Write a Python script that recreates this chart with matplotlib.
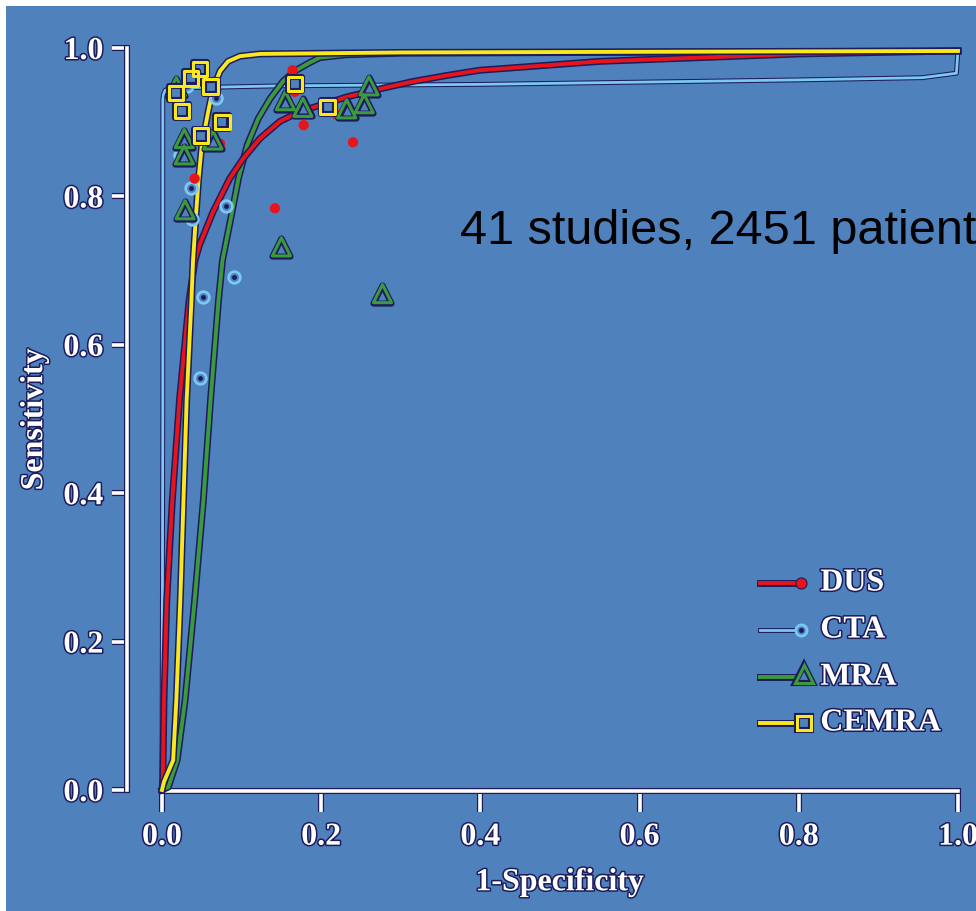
import matplotlib
matplotlib.use("Agg")
import matplotlib.pyplot as plt
import matplotlib.patheffects as pe
from matplotlib.patches import Rectangle

# colours
BG = "#4f81bd"
NAVY = "#1c1c5c"
RED = "#e8141c"
LBLUE = "#7cc8f0"
GREEN = "#3c9a3c"
YELLOW = "#f8e81c"

# summary ROC curves (1-specificity, sensitivity)
dus_curve_x = [0.0, 0.001, 0.0025, 0.006, 0.013, 0.022, 0.034, 0.0415, 0.047, 0.064,
               0.085, 0.102, 0.123, 0.148, 0.173, 0.190, 0.232, 0.274, 0.316, 0.358,
               0.399, 0.55, 0.80, 1.0]
dus_curve_y = [0.0, 0.013, 0.121, 0.256, 0.391, 0.526, 0.660, 0.714, 0.734, 0.779,
               0.824, 0.851, 0.878, 0.901, 0.914, 0.920, 0.934, 0.945, 0.955, 0.963,
               0.970, 0.982, 0.992, 0.996]

cta_curve_x = [0.0, 0.001, 0.001, 0.002, 0.004, 0.010, 0.15, 0.4, 0.8, 0.955, 0.998, 1.0]
cta_curve_y = [0.0, 0.5, 0.930, 0.938, 0.943, 0.946, 0.949, 0.951, 0.957, 0.960, 0.966, 0.997]

mra_curve_x = [0.0, 0.008, 0.019, 0.029, 0.041, 0.052, 0.061, 0.071, 0.076, 0.088,
               0.096, 0.107, 0.121, 0.136, 0.152, 0.167, 0.185, 0.198, 0.232, 0.3, 1.0]
mra_curve_y = [0.0, 0.004, 0.040, 0.121, 0.256, 0.391, 0.526, 0.660, 0.714, 0.779,
               0.824, 0.869, 0.905, 0.932, 0.955, 0.969, 0.980, 0.987, 0.991, 0.993, 0.996]

cemra_curve_x = [0.0, 0.0025, 0.014, 0.018, 0.023, 0.027, 0.031, 0.037, 0.039, 0.043,
                 0.046, 0.050, 0.058, 0.064, 0.073, 0.083, 0.098, 0.123, 0.3, 1.0]
cemra_curve_y = [0.0, 0.011, 0.040, 0.121, 0.256, 0.391, 0.526, 0.660, 0.714, 0.779,
                 0.824, 0.869, 0.914, 0.945, 0.969, 0.982, 0.989, 0.992, 0.994, 0.996]

# individual studies
dus_x = [0.164, 0.167, 0.178, 0.220, 0.240, 0.073, 0.041, 0.142]
dus_y = [0.970, 0.941, 0.896, 0.910, 0.873, 0.871, 0.824, 0.784]

cta_x = [0.016, 0.032, 0.068, 0.023, 0.037, 0.038, 0.081, 0.090, 0.051, 0.048]
cta_y = [0.939, 0.949, 0.933, 0.856, 0.811, 0.770, 0.787, 0.692, 0.665, 0.555]

mra_x = [0.018, 0.028, 0.028, 0.064, 0.029, 0.155, 0.177, 0.232, 0.254, 0.260, 0.150, 0.277]
mra_y = [0.948, 0.878, 0.856, 0.876, 0.782, 0.929, 0.920, 0.918, 0.925, 0.949, 0.732, 0.669]

cemra_x = [0.048, 0.036, 0.061, 0.018, 0.025, 0.076, 0.049, 0.167, 0.208]
cemra_y = [0.972, 0.959, 0.948, 0.939, 0.915, 0.900, 0.882, 0.952, 0.920]

ticks = [0.0, 0.2, 0.4, 0.6, 0.8, 1.0]
tick_labels = ["0.0", "0.2", "0.4", "0.6", "0.8", "1.0"]
legend_names = ["DUS", "CTA", "MRA", "CEMRA"]

W, H = 976, 911
fig = plt.figure(figsize=(W / 100, H / 100), dpi=100, facecolor="white")
fig.patches.append(Rectangle((6 / W, 0), 1, (H - 6) / H, transform=fig.transFigure,
                             facecolor=BG, edgecolor="none", zorder=-10))

ax = fig.add_axes([162 / W, (H - 790) / H, (958 - 162) / W, (790 - 48) / H])
ax.set_facecolor("none")
ax.set_xlim(0, 1)
ax.set_ylim(0, 1)

outline = lambda w: [pe.Stroke(linewidth=w, foreground=NAVY), pe.Normal()]
txt_fx = [pe.withStroke(linewidth=2.2, foreground=NAVY)]
serif = {"family": "Liberation Serif", "weight": "bold"}

# curves
ax.plot(cta_curve_x, cta_curve_y, color=LBLUE, lw=2, clip_on=False, zorder=3,
        path_effects=outline(3.5))
ax.plot(mra_curve_x, mra_curve_y, color=GREEN, lw=2.8, clip_on=False, zorder=4,
        path_effects=outline(5))
ax.plot(dus_curve_x, dus_curve_y, color=RED, lw=2.8, clip_on=False, zorder=5,
        path_effects=outline(5))
ax.plot(cemra_curve_x, cemra_curve_y, color=YELLOW, lw=2.8, clip_on=False, zorder=6,
        path_effects=outline(5))


def hollow(x, y, marker, s, color, z):
    # navy rim on both sides of a coloured outline, background inside
    ax.scatter(x, y, s=s, marker=marker, facecolors=BG, edgecolors=NAVY,
               linewidths=4.4, zorder=z)
    ax.scatter(x, y, s=s, marker=marker, facecolors="none", edgecolors=color,
               linewidths=2.2, zorder=z + 0.1)


# study points
ax.scatter(cta_x, cta_y, s=70, marker="o", facecolors=BG, edgecolors=LBLUE,
           linewidths=2, zorder=7)
ax.scatter(cta_x, cta_y, s=6, marker="o", color=NAVY, zorder=7.5)
ax.scatter(dus_x, dus_y, s=55, marker="o", color=RED, edgecolors="none", zorder=8)
hollow(mra_x, mra_y, "^", 170, GREEN, 9)
hollow(cemra_x, cemra_y, "s", 105, YELLOW, 10)

# legend drawn by hand: line with the marker at its end
leg_colors = [RED, LBLUE, GREEN, YELLOW]
leg_rows = [0.279, 0.2156, 0.152, 0.0903]
for name, c, yy in zip(legend_names, leg_colors, leg_rows):
    thin = c == LBLUE
    ax.plot([0.751, 0.803], [yy, yy], color=c, lw=2 if thin else 2.8,
            transform=ax.transAxes, path_effects=outline(3.5 if thin else 5),
            zorder=11)
    tr = ax.transAxes
    if name == "DUS":
        ax.plot([0.803], [yy], marker="o", ms=8, color=RED, mec=NAVY, mew=0.8,
                transform=tr, zorder=12)
    elif name == "CTA":
        ax.plot([0.803], [yy], marker="o", ms=8, mfc=BG, mec=LBLUE, mew=2,
                transform=tr, zorder=12)
        ax.plot([0.803], [yy], marker="o", ms=2.5, color=NAVY, transform=tr, zorder=13)
    else:
        m, ms, c2, dy = ("^", 13, GREEN, 0.004) if name == "MRA" else ("s", 10, YELLOW, 0)
        ax.plot([0.807], [yy + dy], marker=m, ms=ms, mfc=BG, mec=NAVY, mew=4.4,
                transform=tr, zorder=12)
        ax.plot([0.807], [yy + dy], marker=m, ms=ms, mfc="none", mec=c2, mew=2.2,
                transform=tr, zorder=12.5)
    ax.text(0.827, yy, name, transform=tr, ha="left", va="center",
            color="white", fontsize=23, path_effects=txt_fx, zorder=12, **serif)

fig.text(460 / W, 1 - 244 / H, "41 studies, 2451 patients", fontsize=35,
         family="Liberation Sans", color="black", ha="left", va="baseline")

# axes styling
for s in ["top", "right"]:
    ax.spines[s].set_visible(False)
ax.spines["left"].set_position(("outward", 25.2))
ax.spines["bottom"].set_position(("outward", 1))
for s in ["left", "bottom"]:
    ax.spines[s].set_color("white")
    ax.spines[s].set_linewidth(2.6)
    ax.spines[s].set_path_effects(outline(4.4))

ax.set_xticks(ticks)
ax.set_yticks(ticks)
ax.set_xticklabels(tick_labels, color="white", fontsize=23, **serif)
ax.set_yticklabels(tick_labels, color="white", fontsize=23, **serif)
ax.tick_params(axis="x", length=14.5, width=2.6, color="white", pad=8)
ax.tick_params(axis="y", length=11, width=2.6, color="white", pad=6)
for lab in ax.get_xticklabels() + ax.get_yticklabels():
    lab.set_path_effects(txt_fx)
for t in ax.xaxis.get_major_ticks() + ax.yaxis.get_major_ticks():
    t.tick1line.set_path_effects(outline(4.4))

ax.set_xlabel("1-Specificity", color="white", fontsize=23, va="center",
              path_effects=txt_fx, **serif)
ax.xaxis.set_label_coords(0.5, -0.125)
ax.set_ylabel("Sensitivity", color="white", fontsize=23, va="center",
              path_effects=txt_fx, **serif)
ax.yaxis.set_label_coords(-0.16, 0.5)

fig.savefig("out.png", dpi=100)
